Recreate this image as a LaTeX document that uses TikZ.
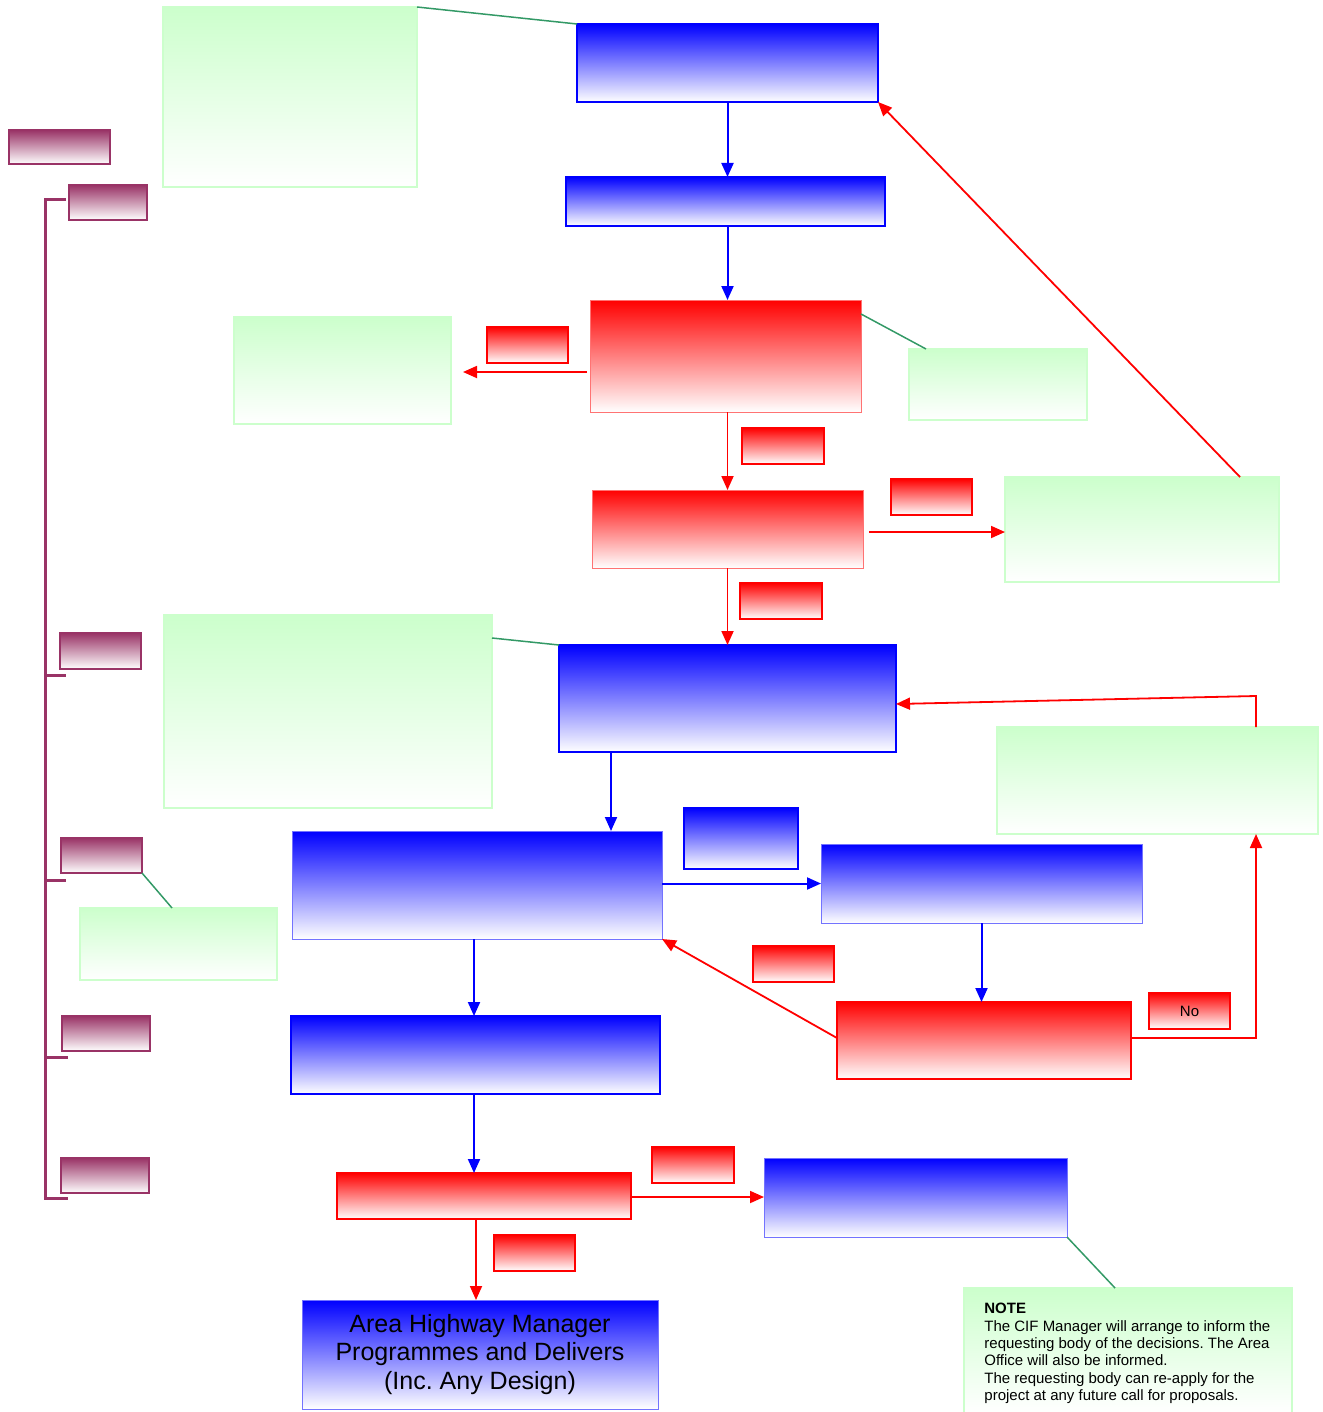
\documentclass[tikz,border=0pt]{standalone}
\usepackage{fontspec}
\setmainfont{Liberation Sans}
\usetikzlibrary{arrows.meta,calc}
\frenchspacing
\definecolor{gfill}{RGB}{204,255,204}
\definecolor{gline}{RGB}{51,153,102}
\definecolor{mag}{RGB}{153,51,102}
\newcommand\bx[7]{\node[#2, minimum width={(#5-#3)*0.5pt}, minimum height={(#6-#4)*0.5pt}] (#1) at ({(#3+#5)/2},{(#4+#6)/2}) {#7};}
\tikzset{
  box/.style={rectangle, inner sep=0pt, outer sep=0pt},
  bluebox/.style={box, draw=blue, line width=1pt, top color=blue, bottom color=white},
  bluethin/.style={box, draw=blue!55, line width=0.5pt, top color=blue, bottom color=white},
  redbox/.style={box, draw=red, line width=1pt, top color=red, bottom color=white},
  redthin/.style={box, draw=red!55, line width=0.5pt, top color=red, bottom color=white},
  greenbox/.style={box, draw=gfill, line width=1pt, top color=gfill, bottom color=white},
  magbox/.style={box, draw=mag, line width=1pt, top color=mag, bottom color=white},
  arrb/.style={blue, line width=1pt, -{Triangle[length=7pt,width=6pt]}},
  arrr/.style={red, line width=0.9pt, -{Triangle[length=7pt,width=6pt]}},
  callout/.style={gline, line width=0.75pt},
  bracket/.style={mag, line width=1.5pt}
}
\begin{document}
\begin{tikzpicture}[x=0.5pt,y=-0.5pt]
\useasboundingbox (0,0) rectangle (1322,1412);
% green boxes
\bx{G1}{greenbox}{163}{7}{417}{187}{}
\bx{G2}{greenbox}{234}{317}{451}{424}{}
\bx{G3}{greenbox}{909}{349}{1087}{420}{}
\bx{G4}{greenbox}{1005}{477}{1279}{582}{}
\bx{G5}{greenbox}{164}{615}{492}{808}{}
\bx{G6}{greenbox}{997}{727}{1318}{834}{}
\bx{G7}{greenbox}{80}{908}{277}{980}{}
\bx{G8}{greenbox}{964}{1288}{1292}{1413}{}
% blue boxes
\bx{B1}{bluebox}{577}{24}{878}{102}{}
\bx{B2}{bluebox}{566}{177}{885}{226}{}
\bx{B3}{bluebox}{559}{645}{896}{752}{}
\bx{B4}{bluethin}{292}{831}{662}{939}{}
\bx{B5}{bluebox}{684}{808}{798}{869}{}
\bx{B6}{bluethin}{821}{844}{1142}{923}{}
\bx{B7}{bluebox}{291}{1016}{660}{1094}{}
\bx{B8}{bluethin}{764}{1158}{1067}{1237}{}
\bx{B9}{bluethin, align=center, font=\fontsize{12.5}{14.4}\selectfont}{302}{1300}{658}{1409}{Area Highway Manager\\Programmes and Delivers\\(Inc. Any Design)}
% red boxes
\bx{R1}{redthin}{590}{300}{861}{412}{}
\bx{R2}{redthin}{592}{490}{863}{568}{}
\bx{R3}{redbox}{837}{1002}{1131}{1079}{}
\bx{R4}{redbox}{337}{1173}{631}{1219}{}
% red labels
\bx{L1}{redbox}{487}{327}{568}{363}{}
\bx{L2}{redbox}{742}{428}{824}{464}{}
\bx{L3}{redbox}{891}{479}{972}{515}{}
\bx{L4}{redbox}{740}{583}{822}{619}{}
\bx{L5}{redbox}{753}{946}{834}{982}{}
\bx{L6}{redbox, font=\fontsize{7.5}{9}\selectfont}{1149}{993}{1230}{1029}{No}
\bx{L7}{redbox}{652}{1147}{734}{1183}{}
\bx{L8}{redbox}{494}{1235}{575}{1271}{}
% magenta boxes
\bx{M1}{magbox}{9}{130}{110}{164}{}
\bx{M2}{magbox}{69}{185}{147}{220}{}
\bx{M3}{magbox}{60}{633}{141}{669}{}
\bx{M4}{magbox}{61}{838}{142}{873}{}
\bx{M5}{magbox}{62}{1016}{150}{1051}{}
\bx{M6}{magbox}{61}{1158}{149}{1193}{}
% note text
\node[anchor=north west, align=left, inner sep=0pt, font=\fontsize{7.5}{8.65}\selectfont] (note) at (984,1303)
  {\textbf{NOTE}\\The CIF Manager will arrange to inform the\\requesting body of the decisions. The Area\\Office will also be informed.\\The requesting body can re-apply for the\\project at any future call for proposals.};
% bracket
\draw[bracket] (66,200) -- (45,200) -- (45,1198) -- (68,1198);
\draw[bracket] (45,675) -- (66,675);
\draw[bracket] (45,880) -- (66,880);
\draw[bracket] (45,1057) -- (68,1057);
% helper coordinates
\coordinate (x611) at (611,0);
\coordinate (x1240) at (1240,0);
\coordinate (x1256) at (1256,0);
\coordinate (x474) at (474,0);
\coordinate (x476) at (476,0);
\coordinate (y372) at (0,372);
\coordinate (y532) at (0,532);
\coordinate (y1038) at (0,1038);
\coordinate (y1197) at (0,1197);
\coordinate (y704) at (0,704);
\coordinate (k1) at (1256,696);
% callouts
\draw[callout] (G1.north east) -- (B1.north west);
\draw[callout] ([yshift=-7pt]R1.north east) -- ([xshift=8.5pt]G3.north west);
\draw[callout] ([yshift=-11.5pt]G5.north east) -- (B3.north west);
\draw[callout] (M4.south east) -- ([xshift=46pt]G7.north west);
\draw[callout] (B8.south east) -- ([xshift=75.5pt]G8.north west);
% arrows
\draw[arrb] (B1.south) -- (B1.south |- B2.north);
\draw[arrb] (B2.south -| B1.south) -- (R1.north -| B1.south);
\draw[arrr] (R1.south -| B1.south) -- (R2.north -| B1.south);
\draw[arrr] (R2.south -| B1.south) -- (B3.north -| B1.south);
\draw[arrr, shorten <=1.5pt, shorten >=6pt] (R1.west |- y372) -- (G2.east |- y372);
\draw[arrr, shorten <=3pt] (R2.east |- y532) -- (G4.west |- y532);
\draw[arrr] (G4.north -| x1240) -- (B1.south east);
\draw[arrr] (G6.north -| x1256) -- (k1) -- (B3.east |- y704);
\draw[arrb] (B3.south -| x611) -- (B4.north -| x611);
\draw[arrb] (B4.east |- B6.west) -- (B6.west);
\draw[arrb] (B6.south) -- (B6.south |- R3.north);
\draw[arrr] (R3.west |- y1038) -- (B4.south east);
\draw[arrr] (R3.east |- y1038) -| (G6.south -| x1256);
\draw[arrb] (B4.south -| x474) -- (B7.north -| x474);
\draw[arrb] (B7.south -| x474) -- (R4.north -| x474);
\draw[arrr] (R4.east |- y1197) -- (B8.west |- y1197);
\draw[arrr] (R4.south -| x476) -- (B9.north -| x476);
\end{tikzpicture}
\end{document}
